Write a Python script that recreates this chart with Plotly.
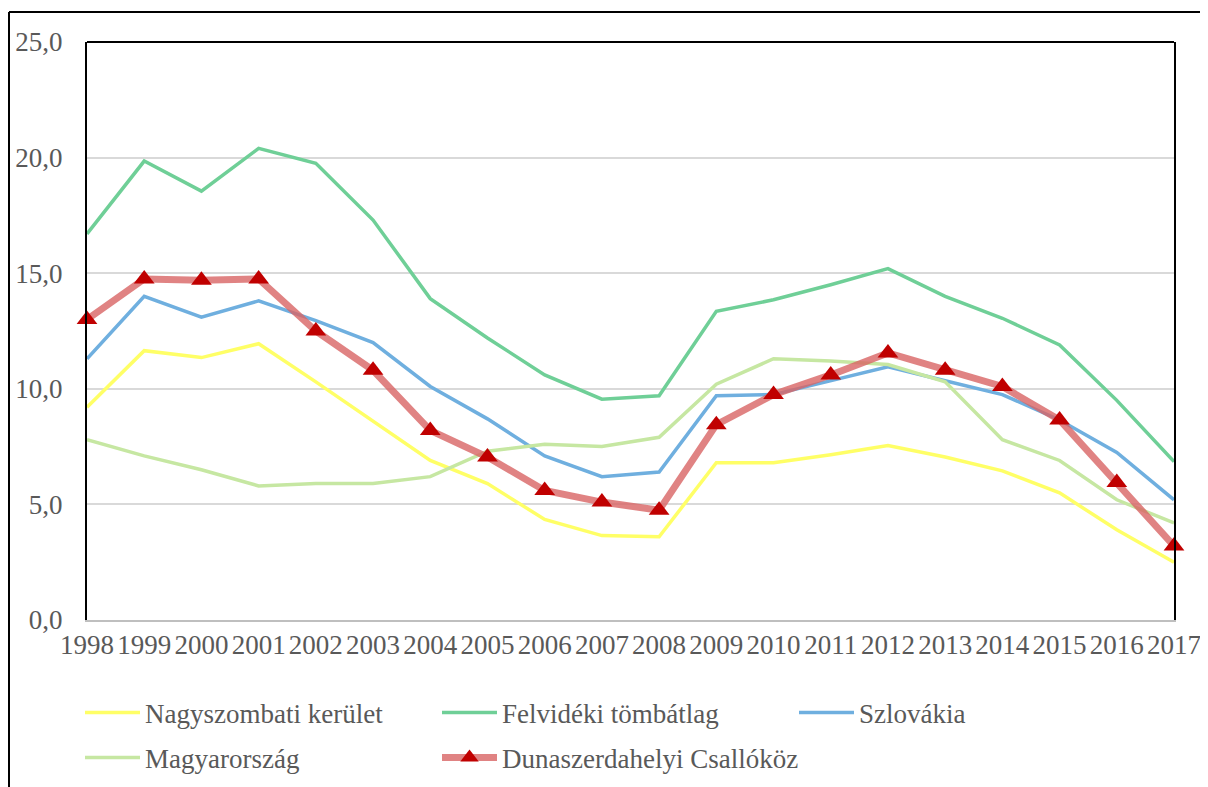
import plotly.graph_objects as go

years = list(range(1998, 2018))

nagyszombati = [9.2, 11.65, 11.35, 11.95, 10.3, 8.6, 6.9, 5.9, 4.35, 3.65,
                3.6, 6.8, 6.8, 7.15, 7.55, 7.05, 6.45, 5.5, 3.9, 2.5]
felvideki = [16.7, 19.85, 18.55, 20.4, 19.75, 17.3, 13.9, 12.2, 10.6, 9.55,
             9.7, 13.35, 13.85, 14.5, 15.2, 14.0, 13.05, 11.9, 9.5, 6.85]
szlovakia = [11.3, 14.0, 13.1, 13.8, 12.95, 12.0, 10.1, 8.7, 7.1, 6.2,
             6.4, 9.7, 9.75, 10.35, 10.95, 10.35, 9.75, 8.65, 7.25, 5.2]
magyarorszag = [7.8, 7.1, 6.5, 5.8, 5.9, 5.9, 6.2, 7.3, 7.6, 7.5,
                7.9, 10.2, 11.3, 11.2, 11.05, 10.3, 7.8, 6.9, 5.2, 4.2]
dunaszerdahelyi = [13.0, 14.75, 14.7, 14.75, 12.5, 10.8, 8.2, 7.05, 5.6, 5.1,
                   4.75, 8.45, 9.75, 10.6, 11.55, 10.8, 10.1, 8.65, 5.95, 3.2]

y_ticks = [0, 5, 10, 15, 20, 25]

# the page adds an 8px body margin, so the figure is a bit smaller than the window
OFF = 8
W, H = 1208 - OFF, 787 - OFF
L, R, T, B = 87 - OFF, W - (1174 - OFF), 42 - OFF, H - (620 - OFF)
FONT = "Liberation Serif"
TXT = "#595959"


def px_x(x):
    # screen pixel -> paper x
    return (x - OFF - L) / (W - L - R)


def px_y(y):
    return (H - B - (y - OFF)) / (H - T - B)


fig = go.Figure()

thin = [
    ("Nagyszombati kerület", nagyszombati, "#FFFF66", "legend"),
    ("Felvidéki tömbátlag", felvideki, "#6FCF97", "legend2"),
    ("Szlovákia", szlovakia, "#6FAFDF", "legend3"),
    ("Magyarország", magyarorszag, "#C6E7A2", "legend4"),
]
for name, vals, color, leg in thin:
    fig.add_trace(go.Scatter(
        x=years, y=vals, name=name, mode="lines",
        line={"color": color, "width": 3.5},
        legend=leg, showlegend=True,
    ))

fig.add_trace(go.Scatter(
    x=years, y=dunaszerdahelyi, name="Dunaszerdahelyi Csallóköz",
    mode="lines+markers",
    line={"color": "rgba(216, 100, 100, 0.8)", "width": 7},
    marker={"symbol": "triangle-up", "size": 18, "color": "#C00000"},
    cliponaxis=False,
    legend="legend5", showlegend=True,
))

# frame lines
shapes = [
    # outer border: left and top
    dict(type="line", xref="paper", yref="paper", x0=px_x(9), x1=px_x(1208),
         y0=px_y(12), y1=px_y(12), line={"color": "black", "width": 2}),
    dict(type="line", xref="paper", yref="paper", x0=px_x(9), x1=px_x(9),
         y0=px_y(12), y1=px_y(787), line={"color": "black", "width": 2}),
    # plot area top
    dict(type="line", xref="paper", yref="paper", x0=0, x1=1, y0=1, y1=1,
         line={"color": "black", "width": 2}),
]


def legend_at(x, y):
    # x, y are screen pixels of the legend anchor
    return dict(
        orientation="h", xanchor="left", yanchor="middle",
        xref="container", yref="container",
        x=(x - OFF) / W, y=1 - (y - OFF) / H,
        font={"family": FONT, "size": 27, "color": TXT},
        itemwidth=55, bgcolor="rgba(0,0,0,0)", borderwidth=0,
    )


fig.update_layout(
    width=W, height=H,
    margin={"l": L, "r": R, "t": T, "b": B, "autoexpand": False},
    paper_bgcolor="white", plot_bgcolor="white",
    separators=",.",
    showlegend=True,
    font={"family": FONT, "size": 27, "color": TXT},
    xaxis={
        "range": [1998, 2017], "tickmode": "array", "tickvals": years,
        "tickangle": 0, "showgrid": False, "zeroline": False,
        "showline": True, "linecolor": "#BFBFBF", "linewidth": 2,
        "ticks": "", "tickfont": {"family": FONT, "size": 27, "color": TXT},
    },
    yaxis={
        "range": [0, 25], "tickmode": "array", "tickvals": y_ticks,
        "tickformat": ".1f", "showgrid": True, "gridcolor": "#D9D9D9",
        "gridwidth": 1.5, "zeroline": False,
        "showline": True, "linecolor": "black", "linewidth": 2, "mirror": True,
        "ticks": "", "ticklabelstandoff": 17,
        "tickfont": {"family": FONT, "size": 27, "color": TXT},
    },
    legend=legend_at(80, 713),
    legend2=legend_at(437, 713),
    legend3=legend_at(794, 713),
    legend4=legend_at(80, 758),
    legend5=legend_at(437, 758),
    shapes=shapes,
)

fig.write_html("out.html")
